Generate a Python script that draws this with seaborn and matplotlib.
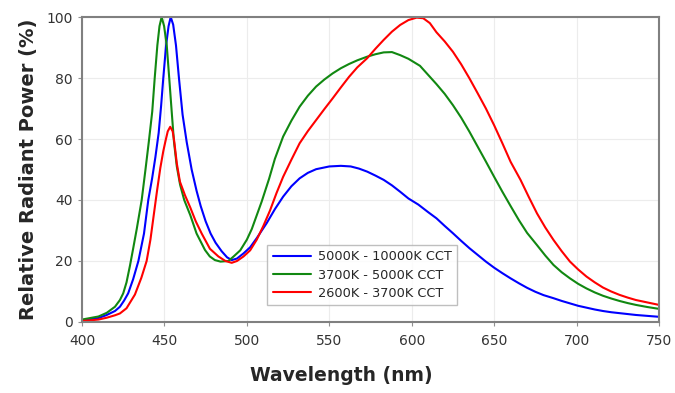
import numpy as np
import pandas as pd
import matplotlib
matplotlib.use('Agg')
import matplotlib.pyplot as plt
import seaborn as sns

# 三条 LED 光谱曲线
series_names = ['5000K - 10000K CCT', '3700K - 5000K CCT', '2600K - 3700K CCT']
series_colors = ['#0000FF', '#118811', '#FF0000']

wl_blue = [400, 410, 415, 420, 423, 425.5, 428, 431, 434.2, 437.6, 440.2, 442.5, 444.5, 446.5,
           448, 449.3, 451, 452.5, 453.8, 455.3, 457, 458.8, 461, 463.5, 466.5, 469.5, 472,
           475, 478, 481, 484.7, 488, 490.8, 494, 498, 502, 506, 512, 517, 522, 527, 532, 537,
           542, 550, 557, 563, 568, 573, 578, 583, 588, 593, 598, 604, 610, 615, 620, 625, 630,
           635, 640, 645, 650, 655, 660, 665, 670, 675, 680, 686, 691, 696, 701, 706, 711, 716,
           721, 726, 731, 736, 743, 750]
pw_blue = [0.5, 1.3, 2.3, 3.6, 5, 7, 9.4, 14, 20, 29, 40, 47, 54, 62,
           71, 80, 90.7, 97, 100, 97.5, 90.7, 80, 68, 59, 50, 43, 38,
           33, 29, 26, 23.2, 21.2, 20.3, 20.8, 22.5, 24.5, 27.5, 32.4, 37, 41.1, 44.5, 47.1, 48.9,
           50.1, 51, 51.2, 51, 50.3, 49.3, 48, 46.6, 44.8, 42.7, 40.5, 38.5, 36, 34, 31.5, 29.1, 26.6,
           24.2, 22, 19.8, 17.8, 16, 14.3, 12.7, 11.2, 9.9, 8.8, 7.8, 6.9, 6.1, 5.3, 4.7, 4.1, 3.6,
           3.2, 2.9, 2.6, 2.3, 2, 1.7]

wl_green = [400, 410, 415, 420, 423, 425, 427, 429.1, 431, 433.2, 436.2, 438.5, 440.5, 442.6, 444.1,
            445.7, 447, 448.3, 449.8, 451.4, 452.9, 454.4, 455.8, 457.5, 459.5, 462, 465.7,
            469.5, 474.6, 477.5, 480.6, 484, 488.8, 492, 496, 500, 503, 506, 509, 513.5, 517, 522, 527,
            532, 537, 542, 547, 552, 557, 562, 567, 573, 578, 583, 588, 593, 598, 605, 610, 615,
            620, 625, 630, 635, 640, 645, 650, 655, 660, 665, 670, 676, 681, 686, 691, 696, 701,
            706, 711, 716, 721, 726, 731, 736, 743, 750]
pw_green = [0.8, 1.8, 3, 5, 7.2, 9.4, 13, 18.5, 24, 30.5, 40, 50, 59, 69, 80,
            90.7, 97, 100, 97, 90.7, 80, 69, 59, 51, 45, 40, 35,
            29, 23.6, 21.5, 20.3, 19.8, 20, 21.5, 23.5, 27, 30.5, 35, 39.5, 47, 53.5, 60.8, 66,
            70.6, 74.2, 77.2, 79.5, 81.5, 83.2, 84.6, 85.8, 87, 87.8, 88.4, 88.5, 87.5, 86.3, 84, 81, 78,
            74.8, 71.1, 67, 62.4, 57.5, 52.6, 47.6, 42.7, 38, 33.4, 29.2, 25.2, 21.8, 18.7, 16.3, 14.3, 12.5,
            11, 9.7, 8.6, 7.7, 6.9, 6.2, 5.6, 4.9, 4.3]

wl_red = [400, 410, 415, 420, 423, 427, 432.1, 436, 439.2, 441.5, 443.5, 445.5, 447.5, 449.3,
          450.7, 452, 453.5, 455, 456, 457.5, 459.4, 462.5, 465.7, 469, 472.6, 477.6, 482.7,
          487, 490.8, 494, 498, 502, 506, 510, 514, 518, 522, 527, 532, 537, 542, 547, 552, 557,
          562, 567, 573, 578, 583, 588, 593, 598, 603, 607, 611, 615, 620, 625, 630, 635, 640,
          645, 650, 655, 660, 666, 671, 676, 681, 686, 691, 696, 701, 706, 711, 716, 721, 726,
          731, 736, 743, 750]
pw_red = [0.3, 0.8, 1.4, 2.2, 2.8, 4.5, 9, 14.5, 20, 27, 35, 43, 50.5, 56,
          59.5, 62.5, 64, 62.5, 59, 52, 46, 41.5, 37.5, 33, 29, 24, 21.5,
          20, 19.4, 20, 21.5, 23.5, 27, 31.5, 36.5, 42.3, 47.6, 53.2, 58.6, 62.6, 66.2, 69.8, 73.3, 76.9,
          80.4, 83.5, 86.5, 89.6, 92.5, 95.2, 97.4, 99, 99.8, 99.6, 98, 95, 92, 88.6, 84.5, 79.9, 75,
          70, 64.5, 58.6, 52.5, 46.6, 41, 35.6, 31, 26.9, 23.2, 19.8, 17.2, 14.9, 13, 11.3, 10, 8.9,
          8, 7.2, 6.4, 5.6]

frames = []
for name, wl, pw in zip(series_names, [wl_blue, wl_green, wl_red], [pw_blue, pw_green, pw_red]):
    frames.append(pd.DataFrame({'Wavelength': wl, 'Power': pw, 'Series': name}))
df = pd.concat(frames, ignore_index=True)

sns.set_style('whitegrid')
plt.rcParams['font.family'] = ['DejaVu Sans']

fig = plt.figure(figsize=(6.75, 3.93), dpi=100)
ax = fig.add_axes([0.1215, 0.1807, 0.8548, 0.776])

sns.lineplot(data=df, x='Wavelength', y='Power', hue='Series', hue_order=series_names,
             palette=series_colors, linewidth=1.5, sort=False, estimator=None, ax=ax)

ax.set_xlim(400, 750)
ax.set_ylim(0, 100)
ax.set_xticks(range(400, 751, 50))
ax.set_yticks(range(0, 101, 20))
ax.grid(color='#ececec', linewidth=0.8)
for sp in ax.spines.values():
    sp.set_color('#808080')
    sp.set_linewidth(1.5)
ax.tick_params(axis='both', labelsize=10, labelcolor='#333333', color='#909090',
               length=3, width=0.8, bottom=True, left=True, direction='out')
ax.tick_params(axis='x', pad=6)
ax.set_xlabel('Wavelength (nm)', fontsize=13.5, fontweight='bold')
ax.xaxis.set_label_coords(0.449, -0.145)
ax.set_ylabel('Relative Radiant Power (%)', fontsize=14, fontweight='bold', labelpad=6)

leg = ax.legend(loc='lower left', bbox_to_anchor=(0.31, 0.035), fontsize=9.3,
                frameon=True, fancybox=False, handlelength=3, borderpad=0.4,
                labelspacing=0.4, handletextpad=0.5)
leg.get_frame().set_edgecolor('#b0b0b0')
leg.get_frame().set_linewidth(1.0)

fig.savefig('out.png', dpi=100)
